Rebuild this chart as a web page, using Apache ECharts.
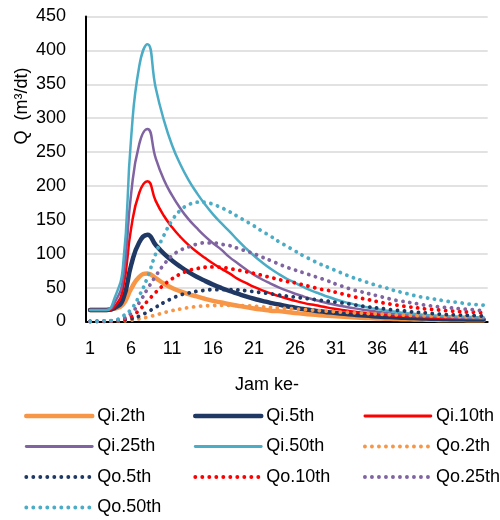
<!DOCTYPE html>
<html>
<head>
<meta charset="utf-8">
<script src="https://cdn.jsdelivr.net/npm/echarts@6/dist/echarts.min.js"></script>
<style>html,body{margin:0;padding:0;background:#fff}#c{width:500px;height:520px}</style>
</head>
<body>
<div id="c"></div>
<script>
const hours = [1,2,3,4,5,6,7,8,9,10,11,12,13,14,15,16,17,18,19,20,21,22,23,24,25,26,27,28,29,30,31,32,33,34,35,36,37,38,39,40,41,42,43,44,45,46,47,48,49];
const yTicks = [0,50,100,150,200,250,300,350,400,450];

const qi2 = [17,17,17,19,25,48,66,71,64,56,49.5,44.5,40.5,37,33.5,30.5,28,25.5,23.3,21.2,19.3,17.6,16,15.3,13.9,12.6,11.4,10.3,9.3,8.4,7.6,6.9,6.2,5.6,5.1,4.6,4.2,3.8,3.5,3.2,2.9,2.7,2.5,2.3,2.2,2.1,2,1.9,1.8];
const qi5 = [17,17,17,20,32,83,117,128,113,100,90,81,73,66,60,54.5,49.5,45,41,37,33.5,30.5,27.5,25,22.5,20.5,18.5,16.8,15.2,13.8,12.5,11.3,10.2,9.2,8.3,7.5,6.8,6.2,5.7,5.2,4.8,4.4,4.1,3.8,3.5,3.3,3.1,2.9,2.8];
const qi10 = [17,17,17,22,48,137,190,207,178,156,139,125,113,103,94,85.5,78,71,63,57,51,46,41.5,37.5,34,30.5,27.5,25,23,20.5,18.5,16.5,14.8,13.3,12,10.8,9.8,8.9,8.1,7.4,6.8,6.3,5.8,5.4,5,4.7,4.4,4.2,4];
const qi25 = [17,17,17,28,62,188,262,284,241,209,186,167,151,138,126,115.5,106,95,86,77,69,62,56,50.5,45.5,41,37,33.3,30,27,24.3,22,20,18,16.1,14.4,12.9,11.6,10.5,9.5,8.6,7.9,7.2,6.6,6.1,5.7,5.3,5,4.7];
const qi50 = [17,17,17,35,80,270,377,409,345,297,260,232,209,190,173,158,145,133,120,108,97,87,78,70,63,57,51,45.5,41,36.5,32.5,29,26,23,20.5,18.3,16.3,14.6,13.1,11.8,10.7,9.7,8.9,8.2,7.6,7.1,6.7,6.4,6.1];
const qo2 = [0,0,0.1,0.3,0.8,2,4,6.5,9.5,13,16,18.5,20.5,22,23,23.5,24,24,23.8,23.3,22.5,21.5,20.7,20,19.2,18.5,17.7,16.8,16,15.2,14.4,13.6,13,12.3,11.7,11,10.5,10,9.5,9,8.7,8.4,8.1,7.8,7.5,7.2,7,6.8,6.6];
const qo5 = [0,0.1,0.3,0.7,2,4,8,14,21,28,34,39,42,44.5,46,47,47,47,46.5,45.5,44,42.5,41,39,37.5,36,34.5,33,31.5,30,28.5,27,25,23,21.5,20,18.5,17,16,14.5,13.5,12.5,11.5,10.5,10,9.5,9,8.5,8];
const qo10 = [0,0.2,0.5,1,3,7,17,30,43,54,63,70,75,78,80,80.5,80,78,76,73.5,71,68,65,62,59,57,54,51,48,46,43,40,37,34.5,32,29.5,27,25,23,21.5,20,18.5,17.5,16.5,15.5,14.5,14,13.5,13];
const qo25 = [0,0.3,0.7,1.5,4,12,28,48,67,84,97,105,110,114,116,116,114,112,108,104,100,95,90,85,80,76,72,68,64,60,55,51,47,44,41,38,35,32,30,28,26,24,22.5,21,20,19,18,17,16];
const qo50 = [0,0.5,1,2,8,18,38,65,100,127,149,164,172,176,176,173,168,162,155,148,141,133,126,118,111,104,97,91,85,80,75,70,65,61,57,53,50,46,43,40,37,35,33,31,29,28,26,25,24];

const names = ['Qi.2th','Qi.5th','Qi.10th','Qi.25th','Qi.50th','Qo.2th','Qo.5th','Qo.10th','Qo.25th','Qo.50th'];
const values = [qi2,qi5,qi10,qi25,qi50,qo2,qo5,qo10,qo25,qo50];
const colors = ['#F79646','#1F3864','#FF0000','#8064A2','#4BACC6','#F79646','#1F3864','#FF0000','#8064A2','#4BACC6'];
const widths = [4.5,4.5,2.5,2.5,2.5,3.8,3.8,3.8,3.8,3.8];
const dotted = [false,false,false,false,false,true,true,true,true,true];
const DOT = [0.1,6.9];

const chart = echarts.init(document.getElementById('c'), null, {renderer:'canvas'});
const FONT = 'Liberation Sans, Arial, sans-serif';

const series = names.map((n,k)=>({
  name:n, type:'line', data:values[k], smooth:0.5, symbol:'none',
  lineStyle:{color:colors[k], width:widths[k], type: dotted[k]?DOT:'solid', cap:'round', join:'round'},
  itemStyle:{color:colors[k]}, z: 2+k, animation:false
}));

function legItem(n){
  const k = names.indexOf(n);
  return {name:n, itemStyle:{opacity:0},
    lineStyle:{color:colors[k], width: dotted[k]?3.8:(widths[k]>3?4.5:2.8), type: dotted[k]?DOT:'solid', cap:'round'}};
}
const legBase = {orient:'vertical', top:406, padding:0, itemWidth:66, itemHeight:14, itemGap:10.5,
  textStyle:{fontSize:18, lineHeight:20, color:'#000', fontFamily:FONT}};

chart.setOption({
  animation:false,
  backgroundColor:'#fff',
  grid:{left:86, right:12.3, top:16.5, bottom:198.5, containLabel:false},
  xAxis:{type:'category', data:hours, boundaryGap:true,
    axisLine:{lineStyle:{color:'#000', width:2}}, axisTick:{show:false},
    axisLabel:{interval:4, fontSize:18, color:'#000', margin:19, fontFamily:FONT},
    splitLine:{show:false}},
  yAxis:{type:'value', min:yTicks[0], max:yTicks[yTicks.length-1], interval:50,
    axisLine:{show:true, lineStyle:{color:'#000', width:2}}, axisTick:{show:false},
    axisLabel:{fontSize:18, color:'#000', margin:20, fontFamily:FONT},
    splitLine:{lineStyle:{color:'#D9D9D9', width:1.5}}},
  legend:[
    Object.assign({}, legBase, {left:24, data:['Qi.2th','Qi.25th','Qo.5th','Qo.50th'].map(legItem)}),
    Object.assign({}, legBase, {left:193, data:['Qi.5th','Qi.50th','Qo.10th'].map(legItem)}),
    Object.assign({}, legBase, {left:363, data:['Qi.10th','Qo.2th','Qo.25th'].map(legItem)})
  ],
  graphic:[
    {type:'text', x:0, y:0, style:{text:'Jam ke-', fontSize:18, fill:'#000', fontFamily:FONT, textAlign:'center', textVerticalAlign:'middle', x:267, y:385}},
    {type:'text', rotation:Math.PI/2, x:22, y:106, style:{text:'Q  (m³/dt)', fontSize:18, fill:'#000', fontFamily:FONT, textAlign:'center', textVerticalAlign:'middle'}}
  ],
  series:series
});
</script>
</body>
</html>
